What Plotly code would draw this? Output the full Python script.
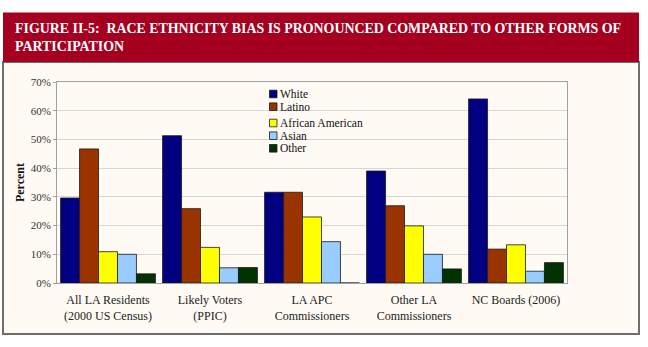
import plotly.graph_objects as go

categories = ["All LA Residents<br>(2000 US Census)", "Likely Voters<br>(PPIC)",
              "LA APC<br>Commissioners", "Other LA<br>Commissioners", "NC Boards (2006)"]
white = [29.6, 51.3, 31.6, 39.0, 64.1]
latino = [46.7, 25.9, 31.6, 26.9, 11.8]
african_american = [10.9, 12.4, 23.0, 19.9, 13.3]
asian = [10.0, 5.3, 14.4, 10.0, 4.1]
other = [3.2, 5.4, 0.0, 4.9, 7.1]

series_names = ["White", "Latino", "African American", "Asian", "Other"]
series_values = [white, latino, african_american, asian, other]
series_colors = ["#000080", "#993300", "#FFFF00", "#99CCFF", "#003300"]

W, H = 648, 347
L, R, T, B = 57, 567, 82, 283  # plot area in pixels


def px(x):
    return (x - L) / (R - L)


def py(y):
    return (B - y) / (B - T)


FONT = "Liberation Serif, serif"
fig = go.Figure()
for name, vals, col in zip(series_names, series_values, series_colors):
    fig.add_trace(go.Bar(x=categories, y=vals, name=name, marker_color=col,
                         marker_line=dict(color="#1a1a1a", width=0.8), showlegend=False))

shapes = [
    dict(type="rect", xref="paper", yref="paper", x0=px(3), x1=px(639), y0=py(334), y1=py(62),
         fillcolor="#FFFAF4", line=dict(color="#6e6e6e", width=2), layer="below"),
    dict(type="rect", xref="paper", yref="paper", x0=px(3), x1=px(639), y0=py(62), y1=py(12.5),
         fillcolor="#A5001F", line=dict(width=0), layer="below"),
]
annotations = [
    dict(xref="paper", yref="paper", x=px(13), y=py(19), xanchor="left", yanchor="top",
         align="left", showarrow=False,
         text="<b>FIGURE II-5:  RACE ETHNICITY BIAS IS PRONOUNCED COMPARED TO OTHER FORMS OF<br>PARTICIPATION</b>",
         font=dict(family=FONT, size=13.9, color="white")),
]
# manual legend (entry centres)
legend_y = [94, 106.7, 123, 135.7, 148.3]
for name, col, cy in zip(series_names, series_colors, legend_y):
    shapes.append(dict(type="rect", xref="paper", yref="paper", x0=px(269.5), x1=px(277),
                       y0=py(cy + 3.8), y1=py(cy - 3.8), fillcolor=col,
                       line=dict(color="#1a1a1a", width=0.8)))
    annotations.append(dict(xref="paper", yref="paper", x=px(277.5), y=py(cy), xanchor="left",
                            yanchor="middle", showarrow=False, text=name,
                            font=dict(family=FONT, size=11.5, color="#111")))

fig.update_layout(
    width=W, height=H,
    margin=dict(l=L, r=W - R, t=T, b=H - B),
    paper_bgcolor="white", plot_bgcolor="#FFFAF4",
    barmode="group", bargap=0.07, bargroupgap=0,
    font=dict(family=FONT, size=12, color="#222"),
    showlegend=False,
    shapes=shapes, annotations=annotations,
)
fig.update_yaxes(range=[0, 70], dtick=10, ticksuffix="%", showgrid=True, gridcolor="#d6d6d6",
                 gridwidth=1, showline=True, linecolor="#a0a0a0", mirror=True,
                 ticks="outside", ticklen=3, tickcolor="#a0a0a0", zeroline=False,
                 tickfont=dict(family=FONT, size=11, color="#333"),
                 title=dict(text="<b>Percent</b>", font=dict(family=FONT, size=12, color="#111"),
                            standoff=3))
fig.update_xaxes(showline=True, linecolor="#a0a0a0", mirror=True, ticks="",
                 ticklabelstandoff=6,
                 tickfont=dict(family=FONT, size=12, color="#222"))

fig.write_html("out.html")
